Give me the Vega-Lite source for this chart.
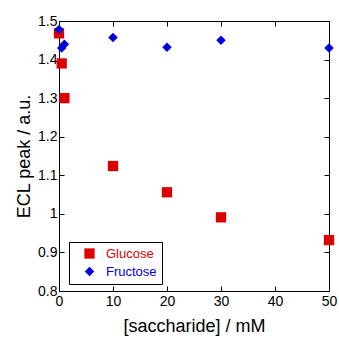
{
  "$schema": "https://vega.github.io/schema/vega-lite/v6.json",
  "width": 270,
  "height": 270,
  "autosize": "none",
  "padding": {"left": 59, "top": 21, "right": 10, "bottom": 47},
  "background": "white",
  "config": {
    "font": "Liberation Sans",
    "view": {"stroke": "black", "strokeWidth": 1},
    "axis": {
      "grid": false,
      "domainColor": "black",
      "tickColor": "black",
      "tickSize": -5,
      "labelFlush": false,
      "labelFont": "Liberation Sans",
      "labelFontSize": 14,
      "labelColor": "black",
      "titleFont": "Liberation Sans",
      "titleFontSize": 18,
      "titleFontWeight": "normal",
      "titleColor": "black"
    }
  },
  "data": {
    "values": [
      {"series": "Glucose", "x": 0, "y": 1.468},
      {"series": "Glucose", "x": 0.5, "y": 1.39},
      {"series": "Glucose", "x": 1, "y": 1.30},
      {"series": "Glucose", "x": 10, "y": 1.124},
      {"series": "Glucose", "x": 20, "y": 1.056},
      {"series": "Glucose", "x": 30, "y": 0.991},
      {"series": "Glucose", "x": 50, "y": 0.932},
      {"series": "Fructose", "x": 0, "y": 1.478},
      {"series": "Fructose", "x": 0.5, "y": 1.43},
      {"series": "Fructose", "x": 1, "y": 1.44},
      {"series": "Fructose", "x": 10, "y": 1.457},
      {"series": "Fructose", "x": 20, "y": 1.432},
      {"series": "Fructose", "x": 30, "y": 1.45},
      {"series": "Fructose", "x": 50, "y": 1.43}
    ]
  },
  "layer": [
    {
      "mark": {"type": "point", "filled": true, "opacity": 1, "strokeWidth": 0},
      "encoding": {
        "x": {
          "field": "x", "type": "quantitative",
          "scale": {"domain": [0, 50], "nice": false, "zero": false},
          "axis": {"orient": "bottom", "values": [0, 10, 20, 30, 40, 50], "title": "[saccharide] / mM", "labelPadding": 8, "titlePadding": 9}
        },
        "y": {
          "field": "y", "type": "quantitative",
          "scale": {"domain": [0.8, 1.5], "nice": false, "zero": false},
          "axis": {"orient": "left", "values": [0.8, 0.9, 1, 1.1, 1.2, 1.3, 1.4, 1.5], "format": "~g", "title": "ECL peak / a.u.", "labelPadding": 7, "titlePadding": 4}
        },
        "shape": {
          "field": "series", "type": "nominal",
          "scale": {"domain": ["Glucose", "Fructose"], "range": ["square", "diamond"]},
          "legend": null
        },
        "color": {
          "field": "series", "type": "nominal",
          "scale": {"domain": ["Glucose", "Fructose"], "range": ["#dd0000", "#0000dd"]},
          "legend": {
            "orient": "none",
            "legendX": 10,
            "legendY": 221,
            "title": null,
            "strokeColor": "black",
            "fillColor": "white",
            "padding": 5,
            "symbolOffset": 9,
            "labelOffset": 10,
            "labelFontSize": 13,
            "labelFont": "Liberation Sans",
            "labelColor": {"expr": "datum.value === 'Glucose' ? '#dd0000' : '#0000dd'"},
            "rowPadding": 4,
            "symbolSize": 100,
            "symbolStrokeWidth": 0
          }
        },
        "size": {
          "field": "series", "type": "nominal",
          "scale": {"domain": ["Glucose", "Fructose"], "range": [106, 90]},
          "legend": null
        }
      }
    },
    {
      "mark": {"type": "point", "opacity": 0},
      "encoding": {
        "x": {
          "field": "x", "type": "quantitative",
          "scale": {"domain": [0, 50], "nice": false, "zero": false},
          "axis": {"orient": "top", "values": [0, 10, 20, 30, 40, 50], "labels": false, "title": null}
        },
        "y": {
          "field": "y", "type": "quantitative",
          "scale": {"domain": [0.8, 1.5], "nice": false, "zero": false},
          "axis": {"orient": "right", "values": [0.8, 0.9, 1, 1.1, 1.2, 1.3, 1.4, 1.5], "labels": false, "title": null}
        }
      }
    }
  ],
  "resolve": {"axis": {"x": "independent", "y": "independent"}}
}
